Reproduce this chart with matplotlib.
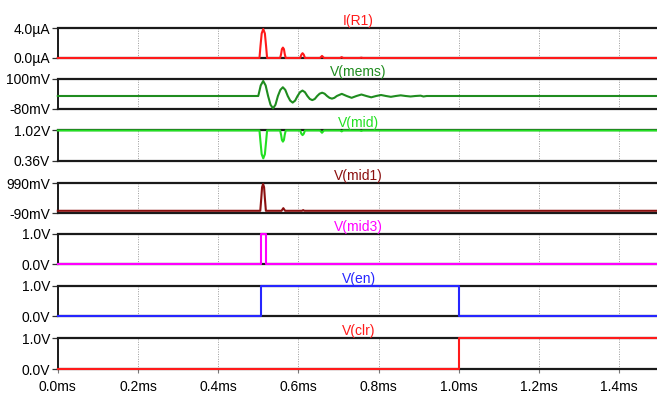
import matplotlib
matplotlib.use("Agg")
import matplotlib.pyplot as plt

plt.rcParams['font.family'] = ['Liberation Sans', 'DejaVu Sans']

# Trace names, colours and y-axis limits / labels
names = ["I(R1)", "V(mems)", "V(mid)", "V(mid1)", "V(mid3)", "V(en)", "V(clr)"]
colors = ["#ff1a1a", "#1f8c1f", "#22e022", "#8b1010", "#ff00ff", "#2626ff", "#ff1a1a"]
ylims = [(0.0, 4.0), (-80, 100), (0.36, 1.02), (-90, 990), (0.0, 1.0), (0.0, 1.0), (0.0, 1.0)]
ylabels = [["0.0µA", "4.0µA"], ["-80mV", "100mV"], ["0.36V", "1.02V"], ["-90mV", "990mV"],
           ["0.0V", "1.0V"], ["0.0V", "1.0V"], ["0.0V", "1.0V"]]

xticks = [0.0, 0.2, 0.4, 0.6, 0.8, 1.0, 1.2, 1.4]
xlabels = ["0.0ms", "0.2ms", "0.4ms", "0.6ms", "0.8ms", "1.0ms", "1.2ms", "1.4ms"]

# I(R1) in uA, time in ms
t_ir1 = [0, 0.5030, 0.5055, 0.5085, 0.5125, 0.5165, 0.5195, 0.5220,
         0.5545, 0.5570, 0.5590, 0.5615, 0.5640, 0.5660, 0.5685,
         0.6045, 0.6075, 0.6105, 0.6135, 0.6165,
         0.6540, 0.6590, 0.6640, 0.7040, 0.7080, 0.7120, 0.7530, 0.7570, 0.7610, 1.5]
v_ir1 = [0, 0, 1.6, 3.3, 3.9, 3.3, 1.6, 0,
         0, 0.55, 1.2, 1.4, 1.2, 0.55, 0,
         0, 0.45, 0.65, 0.45, 0,
         0, 0.28, 0, 0, 0.12, 0, 0, 0.05, 0, 0]

# V(mems) in mV
t_mems = [0, 0.5000, 0.5061, 0.5123, 0.5184, 0.5245, 0.5306, 0.5368, 0.5429, 0.5490,
          0.5551, 0.5613, 0.5674, 0.5735, 0.5796, 0.5858, 0.5919, 0.5980,
          0.6041, 0.6103, 0.6164, 0.6225, 0.6286, 0.6348, 0.6409, 0.6470,
          0.6531, 0.6593, 0.6654, 0.6715, 0.6776, 0.6838, 0.6899, 0.6960,
          0.7083, 0.7205, 0.7328, 0.7450, 0.7573, 0.7695, 0.7818, 0.7940,
          0.8063, 0.8185, 0.8308, 0.8430, 0.8553, 0.8675, 0.8798, 0.8920,
          0.9050, 0.9120, 0.9200, 1.5]
v_mems = [-3, -3, 61, 88, 61, -3, -56, -78, -56, -3,
          34, 50, 34, -3, -31, -43, -31, -3,
          20, 30, 20, -3, -21, -28, -21, -3,
          11, 17, 11, -3, -14, -19, -14, -3,
          10, -3, -14, -3, 6, -3, -11, -3,
          3, -3, -8, -3, 1, -3, -6, -3,
          -1, -6, -3, -3]

# V(mid) in V
t_mid = [0, 0.5030, 0.5055, 0.5085, 0.5125, 0.5165, 0.5195, 0.5220,
         0.5545, 0.5570, 0.5590, 0.5615, 0.5640, 0.5660, 0.5685,
         0.6045, 0.6075, 0.6105, 0.6135, 0.6165,
         0.6540, 0.6590, 0.6640, 0.7040, 0.7080, 0.7120, 0.7530, 0.7570, 0.7610, 1.5]
v_mid = [1.01, 1.01, 0.77, 0.50, 0.41, 0.50, 0.77, 1.01,
         1.01, 0.914, 0.806, 0.77, 0.806, 0.914, 1.01,
         1.01, 0.94, 0.91, 0.94, 1.01,
         1.01, 0.96, 1.01, 1.01, 0.99, 1.01, 1.01, 1.00, 1.01, 1.01]

# V(mid1) in mV
t_mid1 = [0, 0.5050, 0.5075, 0.5095, 0.5120, 0.5145, 0.5165, 0.5190,
          0.5580, 0.5625, 0.5670, 0.6090, 0.6120, 0.6150, 1.5]
v_mid1 = [0, 0, 450, 850, 965, 850, 450, 0,
          0, 95, 0, 0, 25, 0, 0]

# V(mid3), V(en), V(clr) in V
t_mid3 = [0, 0.5075, 0.5075, 0.5190, 0.5190, 1.5]
v_mid3 = [0, 0, 1, 1, 0, 0]
t_en = [0, 0.507, 0.507, 1.0, 1.0, 1.5]
v_en = [0, 0, 1, 1, 0, 0]
t_clr = [0, 1.0, 1.0, 1.5]
v_clr = [0, 0, 1, 1]

series = [(t_ir1, v_ir1), (t_mems, v_mems), (t_mid, v_mid), (t_mid1, v_mid1),
          (t_mid3, v_mid3), (t_en, v_en), (t_clr, v_clr)]

W, H = 657, 401
fig = plt.figure(figsize=(W / 100, H / 100), dpi=100)

tops = [28.3, 79, 130, 183.3, 234, 285.7, 338]
bottoms = [58, 108.7, 160.7, 213.3, 264.3, 316.3, 369.3]
x0, x1 = 57.8, 659.2

for i, (name, c, (lo, hi), yl, (t, v)) in enumerate(zip(names, colors, ylims, ylabels, series)):
    ax = fig.add_axes([x0 / W, 1 - bottoms[i] / H, (x1 - x0) / W, (bottoms[i] - tops[i]) / H])
    ax.plot(t, v, color=c, lw=1.5, zorder=3, clip_on=False)
    ax.set_xlim(0, 1.5)
    ax.set_ylim(lo, hi)
    ax.set_yticks([lo, hi])
    ax.set_yticklabels(yl, fontsize=10)
    ax.set_xticks(xticks)
    ax.grid(axis='x', color='#9a9a9a', linestyle=(0, (1, 1.5)), lw=0.7)
    ax.spines['right'].set_visible(False)
    for s in ('top', 'bottom'):
        ax.spines[s].set_linewidth(1.6)
        ax.spines[s].set_color('#1a1a1a')
    ax.spines['left'].set_linewidth(1.4)
    ax.spines['left'].set_color('#1a1a1a')
    ax.tick_params(axis='y', length=4.5, width=0.9, pad=1.2, color='#333333')
    if i == len(names) - 1:
        ax.set_xticklabels(xlabels, fontsize=10)
        ax.tick_params(axis='x', length=3, width=0.8, pad=5, color='#777777')
    else:
        ax.tick_params(axis='x', length=0, labelbottom=False)
    ax.set_title(name, color=c, fontsize=10, pad=2)

fig.savefig("out.png", dpi=100)
